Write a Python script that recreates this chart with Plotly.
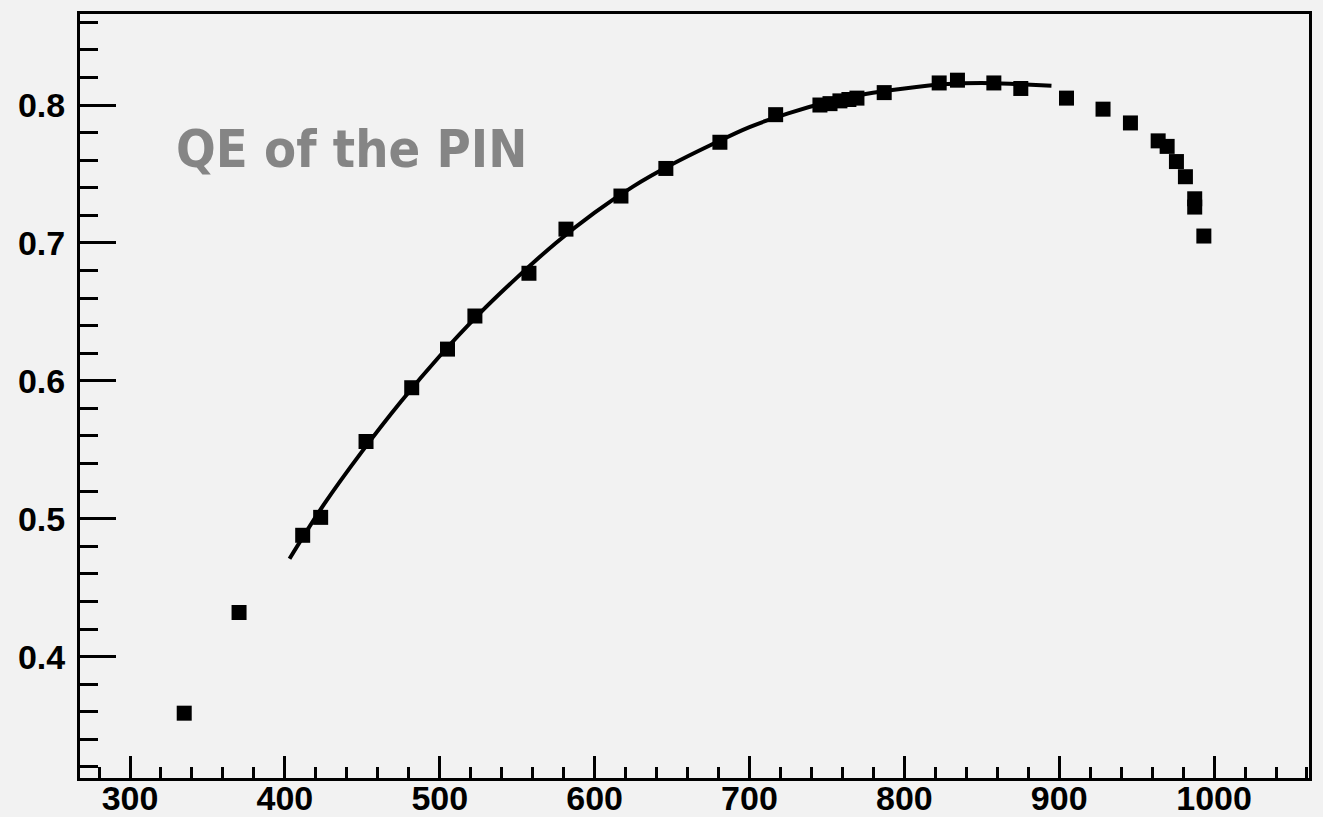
import plotly.graph_objects as go

# Measured QE points (wavelength nm, QE)
wavelength = [335.0, 370.4, 411.5, 423.1, 452.4, 481.9, 505.0, 522.7, 557.6, 581.5,
              617.0, 646.0, 680.9, 716.9, 745.5, 752.0, 758.4, 764.2, 769.4, 787.0,
              822.5, 834.3, 857.8, 875.2, 904.7, 928.3, 946.0, 963.9, 969.7, 975.7,
              981.5, 987.5, 987.5, 993.4]
qe = [0.359, 0.432, 0.488, 0.501, 0.556, 0.595, 0.623, 0.647, 0.678, 0.710,
      0.734, 0.754, 0.773, 0.793, 0.800, 0.801, 0.803, 0.804, 0.805, 0.809,
      0.816, 0.818, 0.816, 0.812, 0.805, 0.797, 0.787, 0.774, 0.770, 0.759,
      0.748, 0.732, 0.726, 0.705]

# Fit curve
fit_wavelength = [403, 425, 450, 475, 500, 525, 550, 575, 600, 625, 650,
                  675, 700, 725, 750, 775, 800, 825, 850, 875, 895]
fit_qe = [0.471, 0.510, 0.549, 0.585, 0.618, 0.648, 0.675, 0.700, 0.722, 0.741, 0.757,
          0.771, 0.784, 0.794, 0.802, 0.808, 0.812, 0.815, 0.816, 0.815, 0.814]

title_text = "QE of the PIN"

fig = go.Figure()
fig.add_trace(go.Scatter(x=fit_wavelength, y=fit_qe, mode="lines",
                         line=dict(color="black", width=4, shape="spline"),
                         showlegend=False, hoverinfo="skip"))
fig.add_trace(go.Scatter(x=wavelength, y=qe, mode="markers",
                         marker=dict(symbol="square", size=15, color="black",
                                     line=dict(width=0)),
                         showlegend=False))

tickfont = dict(family="Liberation Sans, Arial, Helvetica, sans-serif", size=34,
                color="black", weight="bold")

fig.update_xaxes(range=[267.7, 1061.3], tick0=0, dtick=100, ticks="inside",
                 ticklen=22, tickwidth=2.5, tickcolor="black",
                 showline=True, linecolor="black", linewidth=3, mirror=True,
                 showgrid=False, zeroline=False, tickfont=tickfont,
                 automargin=False, ticklabelstandoff=-12,
                 minor=dict(dtick=20, tick0=0, ticks="inside", ticklen=11,
                            tickwidth=2.5, tickcolor="black", showgrid=False))
fig.update_yaxes(range=[0.312, 0.866], tick0=0, dtick=0.1, ticks="inside",
                 ticklen=36, tickwidth=2.5, tickcolor="black",
                 showline=True, linecolor="black", linewidth=3, mirror=True,
                 showgrid=False, zeroline=False, tickfont=tickfont,
                 automargin=False, ticklabelstandoff=5,
                 minor=dict(dtick=0.02, tick0=0, ticks="inside", ticklen=18,
                            tickwidth=2.5, tickcolor="black", showgrid=False))

fig.add_annotation(text=title_text, xref="paper", yref="paper",
                   x=(174 - 80) / 1229, y=1 - (148.5 - 14) / 764,
                   xanchor="left", yanchor="middle", showarrow=False,
                   font=dict(family="DejaVu Sans Condensed, DejaVu Sans, sans-serif",
                             size=52, color="#858585", weight="bold"))

fig.update_layout(width=1323, height=817,
                  margin=dict(l=80, r=14, t=14, b=39),
                  paper_bgcolor="#f2f2f2", plot_bgcolor="#f2f2f2")

fig.write_html("out.html",
               config={"displayModeBar": False},
               post_script="document.body.style.margin='0';"
                           "document.body.style.background='#f2f2f2';"
                           "document.body.style.overflow='hidden';")
